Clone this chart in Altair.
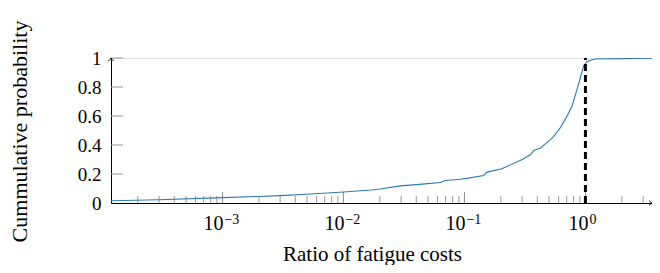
import altair as alt
import pandas as pd

# CDF curve
ratio = [1.2e-4, 3e-4, 1e-3, 2e-3, 3e-3, 5e-3, 1e-2, 1.7e-2, 2.02e-2, 2.96e-2, 4.5e-2,
         6.33e-2, 6.96e-2, 9.3e-2, 0.105, 0.144, 0.154, 0.2, 0.225, 0.3, 0.351, 0.374,
         0.425, 0.514, 0.547, 0.621, 0.706, 0.776, 0.854, 0.909, 0.968, 1.03, 1.1,
         1.21, 2.0, 4.0]
prob = [0.015, 0.022, 0.037, 0.045, 0.051, 0.06, 0.076, 0.09, 0.097, 0.118, 0.13,
        0.141, 0.155, 0.164, 0.17, 0.19, 0.213, 0.235, 0.252, 0.3, 0.333, 0.363,
        0.38, 0.4375, 0.46, 0.52, 0.6, 0.67, 0.785, 0.866, 0.947, 0.974, 0.985,
        0.993, 0.996, 1.0]

x_domain = [1.2e-4, 3.55]
y_ticks = [0, 0.2, 0.4, 0.6, 0.8, 1.0]
x_major = [1e-3, 1e-2, 1e-1, 1.0]
x_exponents = ["\u22123", "\u22122", "\u22121", "0"]
x_minor = [m * 10.0 ** k for k in range(-4, 1) for m in range(2, 10)
           if x_domain[0] <= m * 10.0 ** k <= x_domain[1]]
threshold = 1.0

FONT = "Liberation Serif"
W, H = 541, 145

x_axis = alt.Axis(labels=False, ticks=False, grid=False, domainColor="black",
                  domainWidth=1, title="Ratio of fatigue costs",
                  titleFont=FONT, titleFontSize=21, titleFontWeight="normal",
                  titleColor="black", titleX=261, titleY=57,
                  titleBaseline="alphabetic", titleAnchor="start",
                  titleAlign="center")
y_axis = alt.Axis(values=y_ticks, format="~g", ticks=False, grid=False,
                  labelOverlap=False, domainColor="black", domainWidth=1,
                  labelFont=FONT, labelFontSize=19, labelColor="black",
                  labelPadding=10, labelBaseline="middle",
                  title="Cummulative probability", titleFont=FONT,
                  titleFontSize=22, titleFontWeight="normal",
                  titleColor="black", titleX=-85, titleY=73,
                  titleBaseline="alphabetic", titleAlign="center",
                  titleAngle=270)
X = alt.X("ratio:Q", scale=alt.Scale(type="log", domain=x_domain, nice=False),
          axis=x_axis)
Y = alt.Y("prob:Q", scale=alt.Scale(domain=[0, 1], nice=False), axis=y_axis)

curve = pd.DataFrame({"ratio": ratio, "prob": prob})

minor_df = pd.DataFrame({"ratio": x_minor})
minor_ticks = alt.Chart(minor_df).mark_rule(color="#999999", strokeWidth=1).encode(
    x=X, y=alt.value(H), y2=alt.value(H - 7))

major_df = pd.DataFrame({"ratio": x_major, "exp": x_exponents, "prob": [0] * 4})
major_ticks = alt.Chart(major_df).mark_rule(color="#888888", strokeWidth=1).encode(
    x=X, y=alt.value(H), y2=alt.value(H - 11))

ytick_df = pd.DataFrame({"prob": y_ticks[1:]})
y_tick_marks = alt.Chart(ytick_df).mark_rule(color="#999999", strokeWidth=1).encode(
    y=Y, x=alt.value(0), x2=alt.value(12))

ten_neg = alt.Chart(major_df).transform_filter("length(datum.exp) > 1").mark_text(
    text="10", font=FONT, fontSize=20, align="right", baseline="alphabetic",
    dx=1, dy=27, color="black").encode(x=X, y=Y)
ten_zero = alt.Chart(major_df).transform_filter("length(datum.exp) == 1").mark_text(
    text="10", font=FONT, fontSize=20, align="right", baseline="alphabetic",
    dx=3, dy=27, color="black").encode(x=X, y=Y)
exp_neg = alt.Chart(major_df).transform_filter("length(datum.exp) > 1").mark_text(
    font=FONT, fontSize=14, align="left", baseline="alphabetic",
    dx=2, dy=21, color="black").encode(x=X, y=Y, text="exp:N")
exp_zero = alt.Chart(major_df).transform_filter("length(datum.exp) == 1").mark_text(
    font=FONT, fontSize=14, align="left", baseline="alphabetic",
    dx=4, dy=21, color="black").encode(x=X, y=Y, text="exp:N")

line = alt.Chart(curve).mark_line(color="#2a7ab8", strokeWidth=1.1, clip=True).encode(
    x=X, y=Y)

thr_df = pd.DataFrame({"ratio": [threshold], "prob": [0.0], "prob2": [1.0]})
thr = alt.Chart(thr_df).mark_rule(color="black", strokeWidth=3,
                                  strokeDash=[7, 4]).encode(
    x=X, y=Y, y2="prob2:Q")

arrow_df = pd.DataFrame({"ratio": [x_domain[1]], "prob": [0.0]})
x_arrow = alt.Chart(arrow_df).mark_point(
    shape="M-1,-0.85 Q-0.4,-0.2 0,0 Q-0.4,0.2 -1,0.85", size=36, filled=False,
    stroke="black", strokeWidth=1, opacity=1).encode(x=X, y=Y)
yarrow_df = pd.DataFrame({"ratio": [x_domain[0]], "prob": [1.0]})
y_arrow = alt.Chart(yarrow_df).mark_point(
    shape="M-0.85,1 Q-0.2,0.4 0,0 Q0.2,0.4 0.85,1", size=36, filled=False,
    stroke="black", strokeWidth=1, opacity=1).encode(x=X, y=Y)

chart = alt.layer(
    minor_ticks, major_ticks, y_tick_marks, line, thr,
    ten_neg, ten_zero, exp_neg, exp_zero, x_arrow, y_arrow
).properties(
    width=W, height=H,
    autosize=alt.AutoSizeParams(type="none"),
    padding={"left": 103, "top": 50, "right": 0, "bottom": 62},
).configure_view(stroke=None).configure(background="white")

chart.save("out.html", embed_options={"renderer": "svg", "actions": False})
